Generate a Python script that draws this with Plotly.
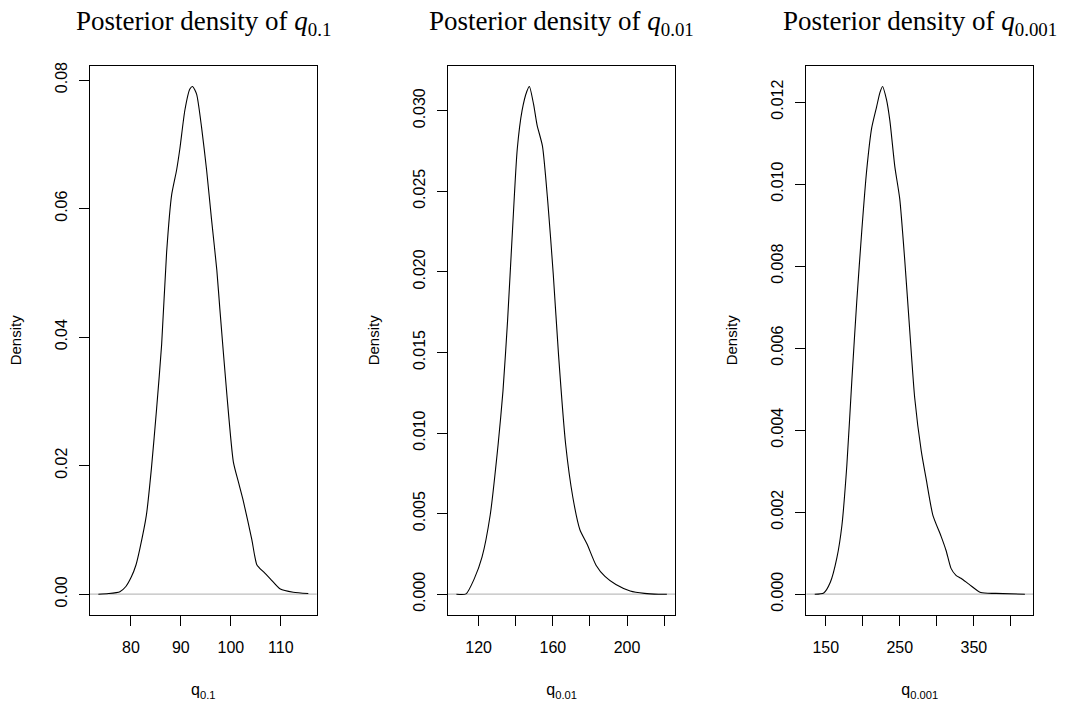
import plotly.graph_objects as go

# Posterior density estimates of three quantiles
x_q01 = [73.5, 75.5, 77.8, 79.0, 80.1, 81.0, 81.8, 83.1, 84.1, 85.15, 86.15, 87.15, 88.15,
         89.15, 89.8, 90.8, 91.8, 92.35, 93.15, 94.15, 95.15, 96.15, 97.2, 97.8, 99.2,
         100.5, 101.5, 102.5, 104.2, 105.2, 106.5, 107.9, 109.9, 112.5, 115.5]
d_q01 = [0.0, 0.0001, 0.0004, 0.0012, 0.0027, 0.0045, 0.0071, 0.0123, 0.0195, 0.0289,
         0.0388, 0.0532, 0.0621, 0.0660, 0.0693, 0.0753, 0.0786, 0.0790, 0.0778, 0.0726,
         0.0660, 0.0582, 0.0504, 0.0444, 0.0311, 0.0206, 0.0175, 0.0145, 0.0085, 0.0046,
         0.0035, 0.0024, 0.0008, 0.0003, 0.0001]

x_q001 = [108.0, 113.2, 117.6, 121.8, 126.2, 130.5, 133.1, 135.6, 138.2, 140.8, 143.4,
          146.0, 147.35, 149.6, 151.5, 154.4, 157.3, 160.2, 163.1, 166.9, 170.8, 174.6,
          178.5, 183.3, 188.1, 194.0, 201.7, 209.4, 217.0, 221.5]
d_q001 = [0.0, 0.00002, 0.00095, 0.0023, 0.0049, 0.0093, 0.0126, 0.0170, 0.0225, 0.0276,
          0.0300, 0.0312, 0.0315, 0.0304, 0.0291, 0.0278, 0.0243, 0.0199, 0.0148, 0.0093,
          0.0060, 0.0040, 0.0031, 0.0018, 0.0011, 0.0006, 0.0002, 0.00005, 0.0, 0.0]

x_q0001 = [135.0, 147.2, 156.1, 165.0, 171.7, 178.4, 185.2, 191.8, 198.6, 205.2, 212.0,
           218.7, 223.1, 226.6, 232.0, 236.6, 243.3, 249.9, 256.6, 263.4, 270.1, 279.0,
           285.7, 294.6, 305.8, 312.6, 319.2, 325.9, 332.6, 343.8, 359.4, 379.5, 419.0]
d_q0001 = [0.0, 0.00003, 0.00029, 0.00089, 0.00167, 0.00314, 0.00522, 0.00713, 0.00886,
           0.01033, 0.01137, 0.01189, 0.01223, 0.01238, 0.01206, 0.01154, 0.01042, 0.00964,
           0.00816, 0.00643, 0.00479, 0.00349, 0.0028, 0.00193, 0.00141, 0.00106, 0.00063,
           0.00046, 0.00039, 0.00024, 0.00004, 0.00002, 0.0]

titles = ["Posterior density of <i>q</i><sub>0.1</sub>",
          "Posterior density of <i>q</i><sub>0.01</sub>",
          "Posterior density of <i>q</i><sub>0.001</sub>"]
xlabels = ["q<sub>0.1</sub>", "q<sub>0.01</sub>", "q<sub>0.001</sub>"]

# labelled x ticks and the spacing of the unlabelled ticks between them
x_ticks = [[80, 90, 100, 110], [120, 160, 200], [150, 250, 350]]
x_minor_step = [None, 20, 50]
y_ticks = [[0.0, 0.02, 0.04, 0.06, 0.08],
           [0.0, 0.005, 0.010, 0.015, 0.020, 0.025, 0.030],
           [0.0, 0.002, 0.004, 0.006, 0.008, 0.010, 0.012]]
y_ticktext = [["0.00", "0.02", "0.04", "0.06", "0.08"],
              ["0.000", "0.005", "0.010", "0.015", "0.020", "0.025", "0.030"],
              ["0.000", "0.002", "0.004", "0.006", "0.008", "0.010", "0.012"]]

series = [(x_q01, d_q01), (x_q001, d_q001), (x_q0001, d_q0001)]

W, H = 1066, 705
x_domains = [(90, 316.7), (448, 675.3), (806.3, 1033.3)]
y_domain = [1 - 614 / H, 1 - 62.5 / H]

SANS = "Liberation Sans, Arial, sans-serif"
SERIF = "Liberation Serif, Times New Roman, serif"

fig = go.Figure()
layout = dict(
    width=W, height=H, margin=dict(l=0, r=0, t=0, b=0),
    paper_bgcolor="white", plot_bgcolor="white", showlegend=False,
    font=dict(family=SANS, size=16, color="black"),
)

annotations = []
shapes = []
for i, ((xs, ds), dom) in enumerate(zip(series, x_domains)):
    n = "" if i == 0 else str(i + 1)
    xa, ya = "x" + n, "y" + n
    fig.add_trace(go.Scatter(x=xs, y=ds, mode="lines", xaxis=xa, yaxis=ya,
                             line=dict(color="black", width=1.1, shape="spline", smoothing=0.6),
                             hoverinfo="skip"))
    # R-style ranges: data span extended by 4% on each side
    xlo, xhi = min(xs), max(xs)
    xpad = 0.04 * (xhi - xlo)
    ymax = max(ds)
    ypad = 0.04 * ymax
    axis_line = dict(showline=True, linecolor="black", linewidth=1, mirror=True,
                     showgrid=False, zeroline=False, ticks="outside", ticklen=10,
                     tickcolor="black", tickwidth=1)
    xaxis = dict(
        domain=[dom[0] / W, dom[1] / W], anchor=ya, range=[xlo - xpad, xhi + xpad],
        tickmode="array", tickvals=x_ticks[i], ticklabelstandoff=8,
        title=dict(text=xlabels[i], standoff=29, font=dict(size=16)), **axis_line)
    if x_minor_step[i]:
        xaxis["minor"] = dict(ticks="outside", ticklen=10, tickcolor="black", tickwidth=1,
                              tickmode="linear", tick0=x_ticks[i][0], dtick=x_minor_step[i],
                              showgrid=False)
    layout["xaxis" + n] = xaxis
    layout["yaxis" + n] = dict(
        domain=y_domain, anchor=xa, range=[-ypad, ymax + ypad],
        tickvals=y_ticks[i], ticktext=y_ticktext[i], tickangle=-90, ticklabelstandoff=6,
        title=dict(text="Density", standoff=27, font=dict(size=15)), **axis_line)
    # horizontal reference at zero density
    shapes.append(dict(type="line", xref=xa + " domain", yref=ya, x0=0, x1=1, y0=0, y1=0,
                       line=dict(color="#BEBEBE", width=1.2), layer="below"))
    annotations.append(dict(text=titles[i], xref="paper", yref="paper",
                            x=(dom[0] + dom[1]) / 2 / W, y=1 - 19 / H,
                            xanchor="center", yanchor="middle", showarrow=False,
                            font=dict(family=SERIF, size=27, color="black")))

layout["annotations"] = annotations
layout["shapes"] = shapes
fig.update_layout(**layout)
fig.write_html("out.html")
